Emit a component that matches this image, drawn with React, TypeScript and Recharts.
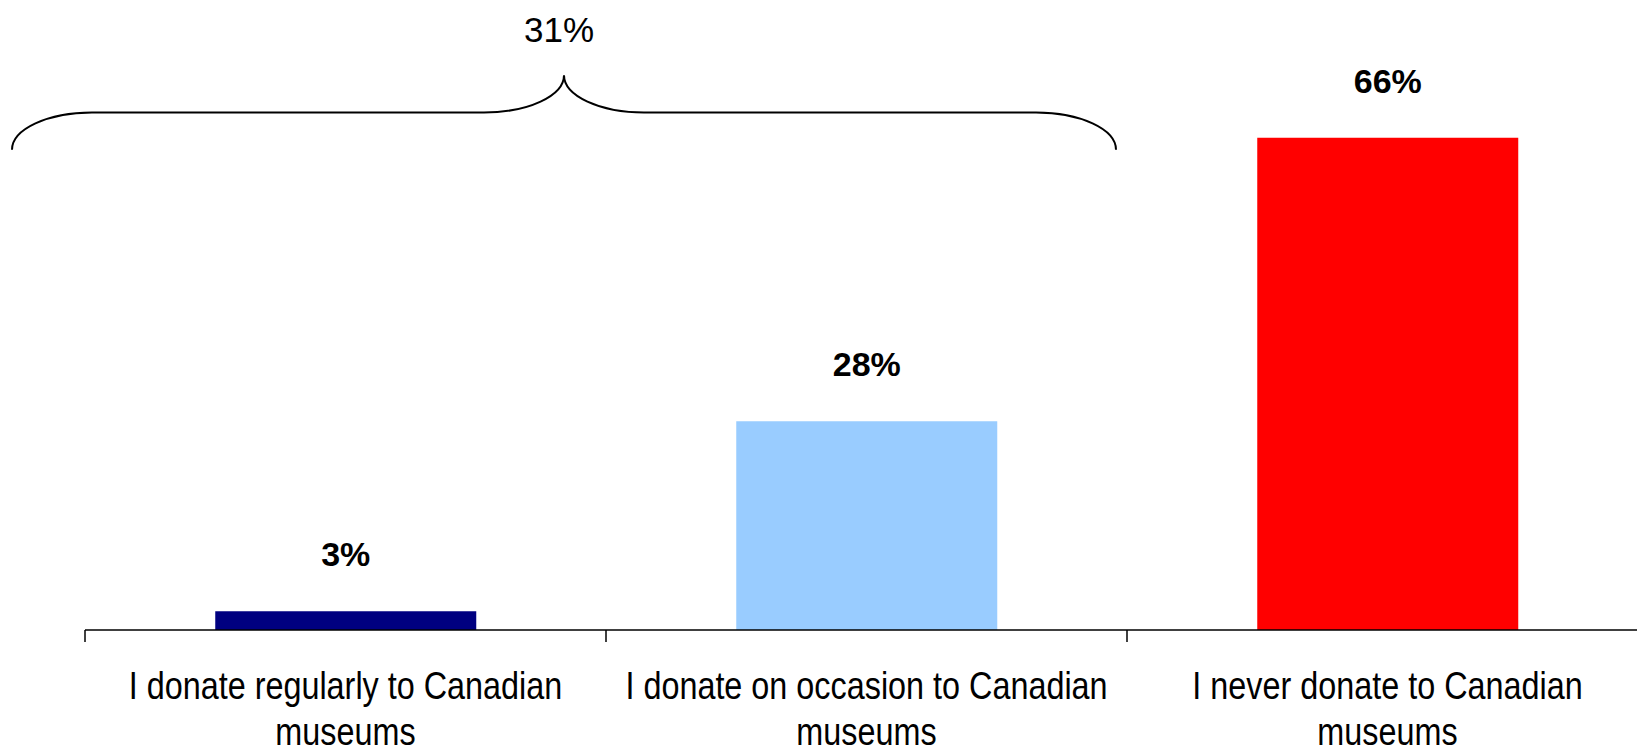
import React from 'react';
import { BarChart, Bar, XAxis, YAxis, Cell, LabelList, ReferenceArea } from 'recharts';

const categories = [
  'I donate regularly to Canadian museums',
  'I donate on occasion to Canadian museums',
  'I never donate to Canadian museums',
];
const values = [2.5, 28, 66];
const barColors = ['#000080', '#99CCFF', '#FF0000'];
const yDomain = [0, 70];
// brace: tips and peak expressed in value units; spans first two categories
const braceRange = [64.4, 74.4];
const braceCategories = [categories[0], categories[1]];

const data = categories.map((name, i) => ({ name, value: values[i] }));
const braceTotal = Math.round(values[0] + values[1]);

const SANS = "'Liberation Sans', Arial, sans-serif";

const CategoryTick = (props: any) => {
  const { x, y, payload } = props;
  const words = String(payload.value).split(' ');
  const last = words.pop();
  const first = words.join(' ');
  const bx = x - (payload.offset ?? 0);
  return (
    <g>
      <line x1={bx} y1={y} x2={bx} y2={y + 12} stroke="#000" strokeWidth={1.5} />
      <g transform={`translate(${x},0) scale(0.83,1)`}>
        <text textAnchor="middle" fontFamily={SANS} fontSize={39} fill="#000">
          <tspan x={0} y={y + 69}>{first}</tspan>
          <tspan x={0} y={y + 115}>{last}</tspan>
        </text>
      </g>
    </g>
  );
};

const ValueLabel = (props: any) => {
  const { x, y, width, value } = props;
  return (
    <text
      x={x + width / 2}
      y={y - 45}
      textAnchor="middle"
      fontFamily={SANS}
      fontWeight="bold"
      fontSize={34}
      fill="#000"
    >
      {Math.round(value)}%
    </text>
  );
};

const Brace = (props: any) => {
  const { x, y, width, height } = props;
  const L = x - 73;
  const R = x + width - 11;
  const C = (L + R) / 2;
  const yPeak = y;
  const yTip = y + height;
  const yMid = y + height / 2;
  const rx = 80;
  const k = 0.5523;
  const d =
    `M${L},${yTip} C${L},${yTip - k * (yTip - yMid)} ${L + rx * (1 - k)},${yMid} ${L + rx},${yMid} ` +
    `L${C - rx},${yMid} C${C - rx + k * rx},${yMid} ${C},${yPeak + k * (yMid - yPeak)} ${C},${yPeak} ` +
    `C${C},${yPeak + k * (yMid - yPeak)} ${C + rx - k * rx},${yMid} ${C + rx},${yMid} ` +
    `L${R - rx},${yMid} C${R - rx + k * rx},${yMid} ${R},${yTip - k * (yTip - yMid)} ${R},${yTip}`;
  return (
    <g>
      <path d={d} fill="none" stroke="#000" strokeWidth={2} />
      <text x={C - 5} y={yPeak - 33} textAnchor="middle" fontFamily={SANS} fontSize={35} fill="#000">
        {braceTotal}%
      </text>
    </g>
  );
};

export default function App() {
  return (
    <div
      style={{
        position: 'absolute',
        left: 0,
        top: 0,
        width: 1637,
        height: 751,
        overflow: 'hidden',
        background: '#fff',
      }}
    >
      <BarChart
        width={1648}
        height={751}
        data={data}
        margin={{ top: 108, right: 0, bottom: 0, left: 85 }}
        barCategoryGap="25%"
      >
        <XAxis
          dataKey="name"
          height={121}
          tickSize={0}
          tickMargin={0}
          tickLine={false}
          axisLine={{ stroke: '#000', strokeWidth: 1.5 }}
          tick={<CategoryTick />}
          interval={0}
        />
        <YAxis hide domain={yDomain} />
        <ReferenceArea
          x1={braceCategories[0]}
          x2={braceCategories[1]}
          y1={braceRange[0]}
          y2={braceRange[1]}
          ifOverflow="visible"
          shape={(p: any) => <Brace {...p} />}
        />
        <Bar dataKey="value" isAnimationActive={false}>
          {data.map((d, i) => (
            <Cell key={d.name} fill={barColors[i]} />
          ))}
          <LabelList dataKey="value" content={<ValueLabel />} />
        </Bar>
      </BarChart>
    </div>
  );
}
